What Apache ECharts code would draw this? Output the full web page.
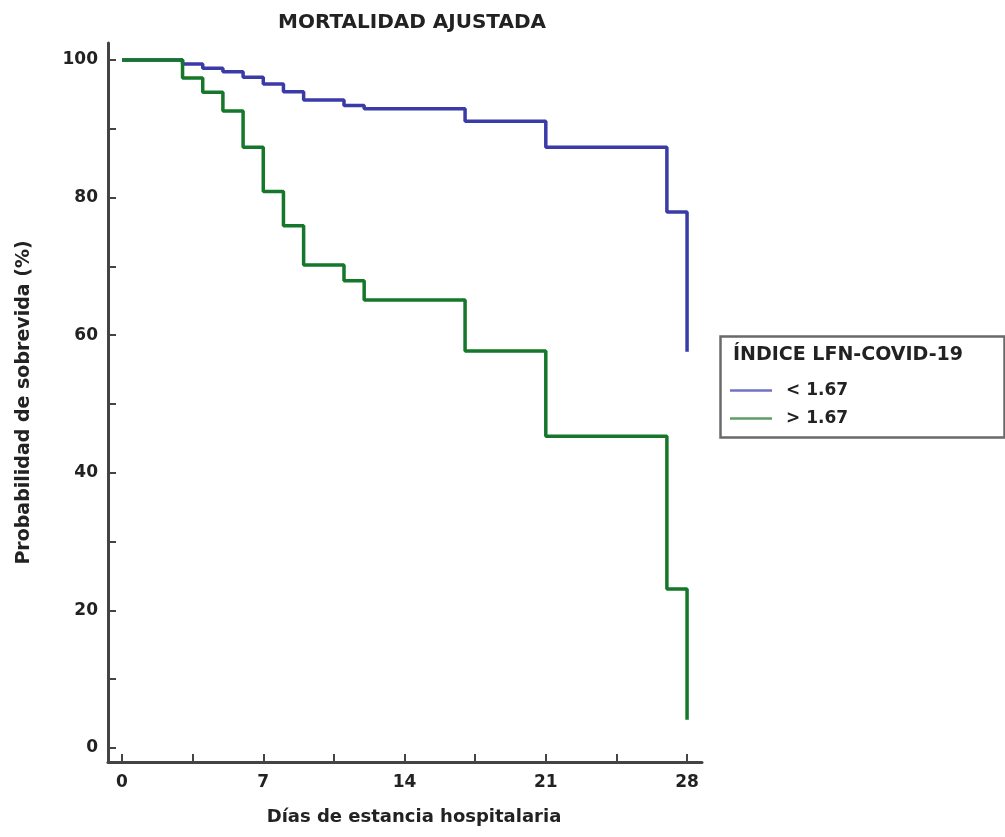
<!DOCTYPE html>
<html><head><meta charset="utf-8">
<script src="https://cdn.jsdelivr.net/npm/echarts@6/dist/echarts.min.js"></script>
<style>html,body{margin:0;padding:0;background:#fff}#c{width:1005px;height:837px}</style>
</head><body><div id="c"></div>
<script>
// ---- data ----
const chartTitle = 'MORTALIDAD AJUSTADA';
const xName = 'Días de estancia hospitalaria';
const yName = 'Probabilidad de sobrevida (%)';
const legendTitle = 'ÍNDICE LFN-COVID-19';
const seriesNames = ['< 1.67', '> 1.67'];
const days = [0, 3, 4, 5, 6, 7, 8, 9, 11, 12, 17, 21, 27, 28];
const survLow = [100, 99.4, 98.8, 98.3, 97.5, 96.5, 95.4, 94.2, 93.4, 92.9, 91.1, 87.3, 77.9, 57.6];
const survHigh = [100, 97.4, 95.3, 92.6, 87.3, 80.9, 75.9, 70.2, 67.9, 65.1, 57.7, 45.3, 23.1, 4.1];
const xTickLabels = [0, 7, 14, 21, 28];
const xTickMarks = [0, 3.5, 7, 10.5, 14, 17.5, 21, 24.5, 28];
const yTickLabels = [0, 20, 40, 60, 80, 100];
const yTickMarks = [0, 10, 20, 30, 40, 50, 60, 70, 80, 90, 100];

const FONT = 'DejaVu Sans';
const AX = '#444';
const TXT = '#222';
const chart = echarts.init(document.getElementById('c'), null, {renderer: 'canvas'});
const pairs = (xs, ys) => xs.map((x, i) => [x, ys[i]]);

chart.setOption({
  animation: false,
  backgroundColor: '#fff',
  title: [{
    text: chartTitle, left: 278, top: 13, padding: 0,
    textStyle: {fontFamily: FONT, fontWeight: 'bold', fontSize: 20, color: TXT}
  }, {
    text: legendTitle, left: 733, top: 346, padding: 0,
    textStyle: {fontFamily: FONT, fontWeight: 'bold', fontSize: 19, color: TXT}
  }],
  graphic: [{
    type: 'rect', left: 718, top: 334, z: 0,
    shape: {width: 284, height: 101},
    style: {fill: 'none', stroke: '#6a6a6a', lineWidth: 2.5}
  }],
  legend: {
    data: [
      {name: seriesNames[0], itemStyle: {color: '#7272c4'}},
      {name: seriesNames[1], itemStyle: {color: '#5e9e66'}}
    ],
    orient: 'vertical', left: 730, top: 382, padding: 0,
    icon: 'rect', itemWidth: 42, itemHeight: 2.5, itemGap: 11,
    textStyle: {fontFamily: FONT, fontWeight: 'bold', fontSize: 17, color: TXT, padding: [0, 0, 0, 9]}
  },
  grid: {left: 108, right: 303, top: 43, bottom: 75},
  xAxis: {
    type: 'value', min: -0.694, max: 28.74,
    axisLine: {show: true, onZero: false, lineStyle: {color: AX, width: 3}},
    axisTick: {show: true, inside: true, length: 8, customValues: xTickMarks, lineStyle: {color: AX, width: 2}},
    splitLine: {show: false},
    axisLabel: {margin: 12, customValues: xTickLabels, fontFamily: FONT, fontWeight: 'bold', fontSize: 17, color: TXT},
    name: xName, nameLocation: 'middle', nameGap: 46,
    nameTextStyle: {fontFamily: FONT, fontWeight: 'bold', fontSize: 18, color: TXT, padding: [0, 0, 0, 18]}
  },
  yAxis: {
    type: 'value', min: -2.035, max: 102.47,
    axisLine: {show: true, onZero: false, lineStyle: {color: AX, width: 3}},
    axisTick: {show: true, inside: true, length: 8, customValues: yTickMarks, lineStyle: {color: AX, width: 2}},
    splitLine: {show: false},
    axisLabel: {margin: 10, customValues: yTickLabels, fontFamily: FONT, fontWeight: 'bold', fontSize: 17, color: TXT},
    name: yName, nameLocation: 'middle', nameGap: 74,
    nameTextStyle: {fontFamily: FONT, fontWeight: 'bold', fontSize: 19, color: TXT}
  },
  series: [{
    name: seriesNames[0], type: 'line', step: 'end',
    data: pairs(days, survLow), symbol: 'none', clip: false,
    color: '#3b3ba8', lineStyle: {color: '#3b3ba8', width: 3.5}
  }, {
    name: seriesNames[1], type: 'line', step: 'end',
    data: pairs(days, survHigh), symbol: 'none', clip: false,
    color: '#15772a', lineStyle: {color: '#15772a', width: 3.5}
  }]
});
</script></body></html>
